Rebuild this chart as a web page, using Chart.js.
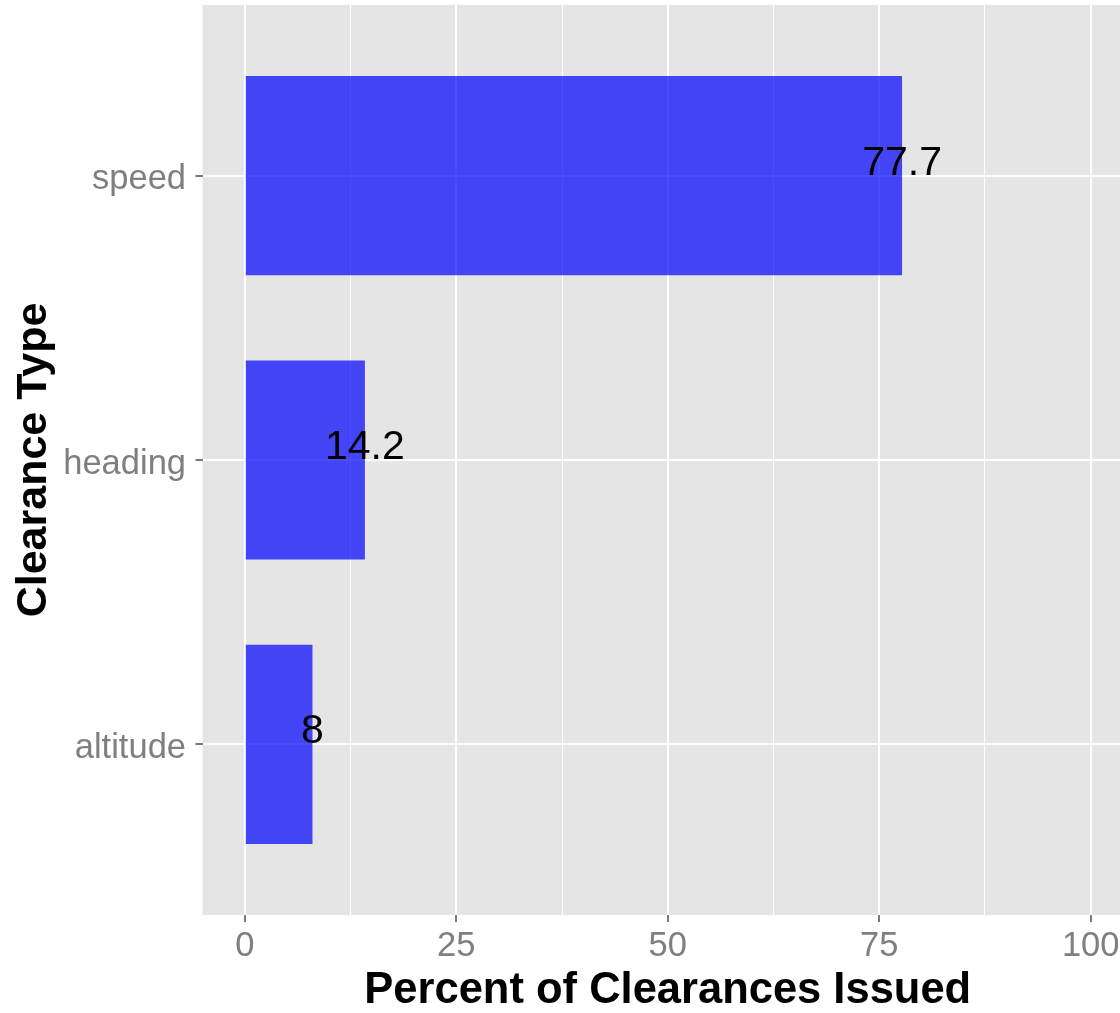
<!DOCTYPE html>
<html>
<head>
<meta charset="utf-8">
<script src="https://cdn.jsdelivr.net/npm/chart.js@4"></script>
<style>
  html, body { margin: 0; padding: 0; background: #ffffff; overflow: hidden; }
  #wrap { width: 1140px; height: 1013px; }
</style>
</head>
<body>
<div id="wrap"><canvas id="c" width="1140" height="1013"></canvas></div>
<script>
// ---- data ----
const categories = ['altitude', 'heading', 'speed'];
const percents = [8, 14.2, 77.7];
const xMajorTicks = [0, 25, 50, 75, 100];
const xMinorTicks = [12.5, 37.5, 62.5, 87.5];
const xTitle = 'Percent of Clearances Issued';
const yTitle = 'Clearance Type';

const FONT = '"Liberation Sans", Arial, sans-serif';
const PANEL = '#E5E5E5';
const TICKTXT = '#7F7F7F';

const points = categories.map((c, i) => ({ x: percents[i], y: i + 1 }));

const panelBg = {
  id: 'panelBg',
  beforeDraw(chart) {
    const { ctx, chartArea: a } = chart;
    ctx.save();
    ctx.fillStyle = PANEL;
    ctx.fillRect(a.left, a.top, a.right - a.left, a.bottom - a.top);
    ctx.restore();
  }
};

const valueLabels = {
  id: 'valueLabels',
  afterDatasetsDraw(chart) {
    const { ctx, scales } = chart;
    ctx.save();
    ctx.font = '41px ' + FONT;
    ctx.fillStyle = '#000000';
    ctx.textAlign = 'center';
    ctx.textBaseline = 'alphabetic';
    percents.forEach((v, i) => {
      const x = scales.x.getPixelForValue(v);
      const y = scales.y.getPixelForValue(i + 1);
      ctx.fillText(String(v), x, y - 1);
    });
    ctx.restore();
  }
};

new Chart(document.getElementById('c'), {
  type: 'bar',
  data: {
    datasets: [{
      data: points,
      backgroundColor: 'rgba(0,0,255,0.7)',
      borderWidth: 0,
      barPercentage: 0.7,
      categoryPercentage: 1.0
    }]
  },
  options: {
    indexAxis: 'y',
    responsive: false,
    animation: false,
    devicePixelRatio: 1,
    layout: { padding: { top: 5, right: 7, left: 0, bottom: 0 } },
    plugins: { legend: { display: false }, tooltip: { enabled: false } },
    scales: {
      x: {
        type: 'linear',
        min: -5,
        max: 105,
        afterBuildTicks(scale) {
          scale.ticks = xMajorTicks.concat(xMinorTicks).sort((a, b) => a - b).map(v => ({ value: v }));
        },
        afterFit(scale) {
          scale.height = 98;
          scale.paddingLeft = 0; scale.paddingRight = 0;
          scale.paddingTop = 0; scale.paddingBottom = 0;
        },
        border: { display: false },
        grid: {
          color: '#FFFFFF',
          lineWidth: (c) => (xMajorTicks.includes(c.tick && c.tick.value) ? 2 : 1),
          tickColor: (c) => (xMajorTicks.includes(c.tick && c.tick.value) ? '#7A7A7A' : 'rgba(0,0,0,0)'),
          tickLength: 7,
          tickWidth: 2,
          drawTicks: true
        },
        ticks: {
          autoSkip: false,
          maxRotation: 0,
          padding: 4,
          color: TICKTXT,
          font: { family: FONT, size: 34.5 },
          callback: (v) => (xMajorTicks.includes(v) ? String(v) : '')
        },
        title: {
          display: true,
          text: xTitle,
          color: '#000000',
          font: { family: FONT, size: 43.5, weight: 'bold', lineHeight: 1 },
          padding: { top: 0, bottom: 0 }
        }
      },
      y: {
        type: 'linear',
        min: 0.4,
        max: 3.6,
        offset: false,
        afterBuildTicks(scale) {
          scale.ticks = categories.map((c, i) => ({ value: i + 1 }));
        },
        afterFit(scale) {
          scale.width = 202.5;
          scale.paddingLeft = 0; scale.paddingRight = 0;
          scale.paddingTop = 0; scale.paddingBottom = 0;
        },
        border: { display: false },
        grid: {
          offset: false,
          color: '#FFFFFF',
          lineWidth: 2,
          tickColor: '#7A7A7A',
          tickLength: 7,
          tickWidth: 2,
          drawTicks: true
        },
        ticks: {
          autoSkip: false,
          padding: 9.5,
          labelOffset: 4,
          color: TICKTXT,
          font: { family: FONT, size: 34.5 },
          callback: (v) => categories[v - 1] || ''
        },
        title: {
          display: true,
          text: yTitle,
          color: '#000000',
          font: { family: FONT, size: 43, weight: 'bold', lineHeight: 1 },
          padding: { top: 13, bottom: 0 }
        }
      }
    }
  },
  plugins: [panelBg, valueLabels]
});
</script>
</body>
</html>
